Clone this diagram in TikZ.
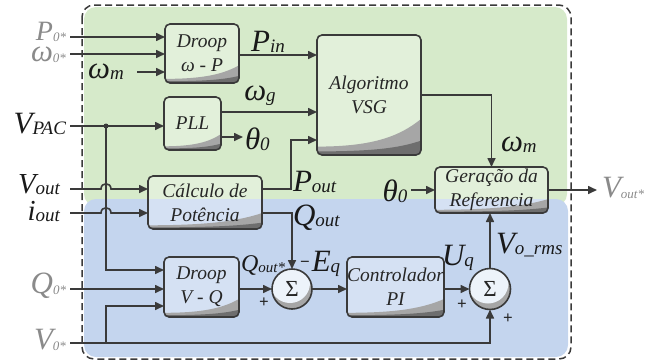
\documentclass[tikz,border=0pt]{standalone}
\usepackage{fontspec}
\setmainfont{Liberation Serif}
\usetikzlibrary{arrows.meta}
\definecolor{bggreen}{HTML}{D6EACA}
\definecolor{bgblue}{HTML}{C4D5EE}
\definecolor{lgray}{HTML}{A6A6A6}
\definecolor{dgray}{HTML}{6E6E6E}
\definecolor{ln}{HTML}{3A3A3A}
\definecolor{gtxt}{HTML}{8A8A8A}
\tikzset{
 box/.style={draw=ln,line width=1.6pt,rounded corners=5pt,inner sep=0pt,outer sep=0pt,align=center,font=\fontsize{19.5}{24}\selectfont\itshape,text=black!85},
 sumc/.style={circle,draw=ln,line width=1.6pt,inner sep=0pt,outer sep=0pt,font=\fontsize{23}{23}\selectfont,text=black!85},
 arr/.style={draw=ln,line width=1.6pt,-{Triangle[length=9pt,width=8pt]}},
 wire/.style={draw=ln,line width=1.6pt},
 lab/.style={inner sep=0pt,outer sep=0pt,text=black!90},
 glab/.style={inner sep=0pt,outer sep=0pt,text=gtxt},
 sgn/.style={inner sep=0pt,outer sep=0pt,text=black!85,font=\fontsize{17}{17}\selectfont\bfseries},
}
\newcommand\BL[2]{{\fontsize{31}{31}\selectfont\itshape #1}\raisebox{-1pt}{\fontsize{19}{19}\selectfont\itshape #2}}
\newcommand\CL[2]{{\fontsize{29}{29}\selectfont\itshape #1}\raisebox{-1pt}{\fontsize{19}{19}\selectfont\itshape #2}}
\newcommand\ML[2]{{\fontsize{24}{24}\selectfont\itshape #1}\raisebox{-1pt}{\fontsize{15}{15}\selectfont\itshape #2}}
\newcommand\SL[2]{{\fontsize{31}{31}\selectfont\itshape #1}\raisebox{-1pt}{\fontsize{13}{13}\selectfont\itshape #2}}
\newcommand\TL[2]{{\fontsize{28}{28}\selectfont\itshape #1}\raisebox{-1pt}{\fontsize{13}{13}\selectfont\itshape #2}}
\newcommand\gbox[6]{%
 \begin{scope}
 \clip[rounded corners=5pt] (#2,#3) rectangle (#4,#5);
 \fill[white,opacity=0.3] (#2,#3) rectangle (#4,#5);
 \pgfmathsetmacro\gbh{#5-#3}
 \pgfmathsetmacro\gbw{#4-#2}
 \fill[lgray] (#2,#5) -- (#2,{#5-0.07*\gbh}) .. controls ({#2+0.55*\gbw},{#5-0.07*\gbh}) and ({#2+0.8*\gbw},{#5-0.16*\gbh}) .. (#4,{#5-0.3*\gbh}) -- (#4,#5) -- cycle;
 \fill[dgray] (#2,#5) -- (#2,{#5-0.03*\gbh}) .. controls ({#2+0.55*\gbw},{#5-0.03*\gbh}) and ({#2+0.8*\gbw},{#5-0.06*\gbh}) .. (#4,{#5-0.12*\gbh}) -- (#4,#5) -- cycle;
 \end{scope}
 \node[box,minimum width={(#4-#2)*1pt},minimum height={(#5-#3)*1pt}] (#1) at ({(#2+#4)/2},{(#3+#5)/2}) {#6};
}
\newcommand\sumnode[4]{%
 \begin{scope}
 \clip (#2,#3) circle[radius=#4pt];
 \fill[lgray] (#2,#3) circle[radius=#4pt];
 \fill[white!70!bgblue] ({#2-2},{#3-6}) circle[radius=#4pt];
 \end{scope}
 \node[sumc,minimum size={2*#4*1pt}] (#1) at (#2,#3) {Σ};
}
\begin{document}
\begin{tikzpicture}[x=1pt,y=-1pt]
\useasboundingbox (0,0) rectangle (659,362);
% backgrounds
\fill[bggreen,rounded corners=12pt] (84,7) rectangle (567,206);
\fill[bgblue,rounded corners=12pt] (84,199) rectangle (568,357);
\draw[ln,line width=1.5pt,dash pattern=on 7pt off 4pt,rounded corners=12pt] (82,5) rectangle (571,359);
% boxes
\gbox{dwp}{165}{24}{239}{83}{Droop\\ω - P}
\gbox{pll}{164}{97}{221}{150}{PLL}
\gbox{vsg}{317}{35}{421}{155}{Algoritmo\\VSG}
\gbox{calc}{148}{176}{262}{229}{Cálculo de\\Potência}
\gbox{ger}{435}{167}{548}{213}{Geração da\\Referencia}
\gbox{dvq}{164}{257}{239}{317}{Droop\\V - Q}
\gbox{pi}{347}{257}{444}{317}{Controlador\\PI}
\sumnode{s1}{292}{289}{20}
\sumnode{s2}{490}{289}{20.5}
% input coordinates and labels
\coordinate (iP) at (70,37);
\coordinate (iW) at (70,54);
\coordinate (iWm) at (137,72);
\coordinate (iV) at (70,126);
\coordinate (jV) at (106,126);
\coordinate (iVo) at (70,189);
\coordinate (iIo) at (70,213);
\coordinate (iQ) at (70,289);
\coordinate (iV0) at (70,343);
\coordinate (jV0) at (106,343);
\coordinate (th1) at (243,137);
\coordinate (th2) at (411,190);
\coordinate (oV) at (597,190);
\node[glab,anchor=east] (lP) at (66,32) {\TL{P}{0*}};
\node[glab,anchor=east] (lW) at (66,55) {\SL{ω}{0*}};
\node[lab] (lWm) at (106,72) {\BL{ω}{m}};
\node[lab,anchor=east] (lV) at (66,124) {\BL{V}{PAC}};
\node[lab,anchor=east] (lVo) at (60,185) {\CL{V}{out}};
\node[lab,anchor=east] (lIo) at (60,212) {\CL{i}{out}};
\node[glab,anchor=east] (lQ) at (66,286) {\SL{Q}{0*}};
\node[glab,anchor=east] (lV0) at (66,340) {\SL{V}{0*}};
\node[glab,anchor=west] (lVs) at (602,188) {\SL{V}{out*}};
\node[lab] (lPin) at (268,42) {\BL{P}{in}};
\node[lab] (lWg) at (260,96) {\BL{ω}{g}};
\node[lab,anchor=west] (lTh1) at (245,139) {\BL{θ}{0}};
\node[lab,anchor=west] (lPo) at (293,182) {\BL{P}{out}};
\node[lab,anchor=west] (lQo) at (293,218) {\BL{Q}{out}};
\node[lab] (lTh2) at (395,191) {\BL{θ}{0}};
\node[lab,anchor=west] (lWm2) at (501,145) {\BL{ω}{m}};
\node[lab,anchor=west] (lVr) at (496,245) {\BL{V}{o\_rms}};
\node[lab] (lUq) at (458,258) {\BL{U}{q}};
\node[lab] (lQs) at (263,265) {\ML{Q}{out*}};
\node[lab] (lEq) at (326,264) {\BL{E}{q}};
\node[sgn] (m1) at (305,264) {−};
\node[sgn] (p1) at (264,303) {+};
\node[sgn] (p2) at (462,305) {+};
\node[sgn] (p3) at (508,319) {+};
% connectors
\draw[arr] (iP) -- (dwp.west |- iP);
\draw[arr] (iW) -- (dwp.west |- iW);
\draw[arr] (iWm) -- (dwp.west |- iWm);
\draw[arr] (dwp.east |- 0,55) -- (vsg.west |- 0,55);
\draw[arr] (iV) -- (pll.west |- iV);
\fill[ln] (jV) circle[radius=2.5pt];
\draw[arr] (jV) -- (106,270) -- (dvq.west |- 0,270);
\draw[arr] (pll.east |- 0,112) -- (vsg.west |- 0,112);
\draw[arr] (pll.east |- th1) -- (th1);
\draw[arr] (iVo) -- (101,189) .. controls (101,182) and (111,182) .. (111,189) -- (calc.west |- iVo);
\draw[arr] (iIo) -- (101,213) .. controls (101,206) and (111,206) .. (111,213) -- (calc.west |- iIo);
\draw[arr] (calc.east |- iVo) -- (291,189) -- (291,140) -- (vsg.west |- 0,140);
\draw[arr] (calc.east |- iIo) -- (s1.north |- iIo) -- (s1.north);
\draw[arr] (iQ) -- (dvq.west |- iQ);
\draw[arr] (iV0) -- (s2.south |- iV0) -- (s2.south);
\draw[arr] (jV0) -- (106,306) -- (dvq.west |- 0,306);
\draw[arr] (dvq.east |- s1) -- (s1.west);
\draw[arr] (s1.east) -- (pi.west |- s1);
\draw[arr] (pi.east |- s2) -- (s2.west);
\draw[arr] (s2.north) -- (ger.south -| s2);
\draw[arr] (vsg.east |- 0,95) -- (ger.north |- 0,95) -- (ger.north);
\draw[arr] (th2) -- (ger.west |- th2);
\draw[arr] (ger.east |- oV) -- (oV);
\end{tikzpicture}
\end{document}
